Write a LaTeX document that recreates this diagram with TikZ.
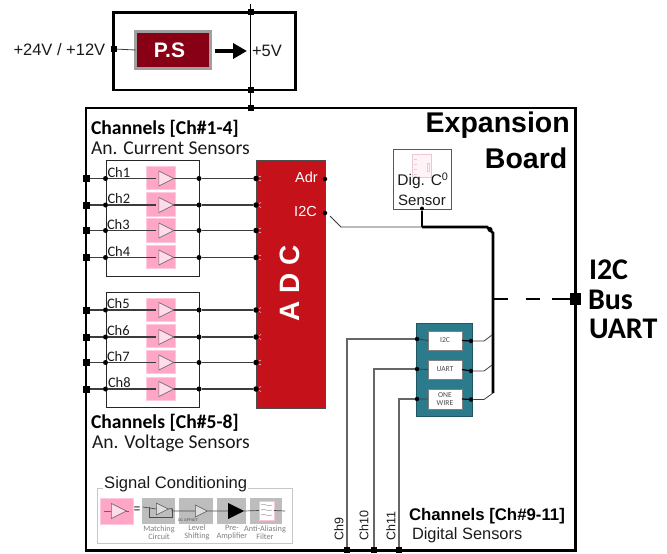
\documentclass[tikz,border=0pt]{standalone}
\usepackage{fontspec}
\setmainfont{Liberation Sans}
\newfontfamily\calfam{Carlito}
\usetikzlibrary{arrows.meta,shapes.geometric}
\newcommand{\fsz}[1]{\fontsize{#1}{#1}\selectfont}
\definecolor{txt}{HTML}{1A1A1A}
\definecolor{wire}{HTML}{3C3C3C}
\definecolor{pinkb}{HTML}{FFA6C6}
\definecolor{pinkl}{HTML}{FFDCE8}
\definecolor{adcred}{HTML}{C5111A}
\definecolor{psred}{HTML}{880016}
\definecolor{teal2}{HTML}{2B7B8C}
\definecolor{condg}{HTML}{BDBDBD}
\tikzset{
  box/.style={draw,anchor=north west,inner sep=0pt,outer sep=0pt},
  dotn/.style={circle,fill=black,inner sep=0pt,minimum size=#1,outer sep=0pt},
  dotn/.default=5pt,
  sqn/.style={rectangle,fill=black,inner sep=0pt,minimum size=#1,outer sep=0pt},
  sqn/.default=6pt,
  wireln/.style={draw=wire,line width=1.4pt},
  thinln/.style={draw=wire,line width=0.8pt},
  heavy/.style={draw=black,line width=2.6pt},
  lbl/.style={anchor=west,inner sep=0pt,outer sep=0pt,text=txt},
  amp/.style={isosceles triangle,isosceles triangle stretches,draw=gray!85!black,fill=pinkl,line width=0.7pt,inner sep=0pt,minimum width=15pt,minimum height=15pt,anchor=center,outer sep=0pt},
  pinkbox/.style={box,draw=pinkb!60!white,fill=pinkb,line width=0.5pt,minimum width=29pt,minimum height=23.5pt},
  condbox/.style={box,draw=none,fill=condg,minimum height=25.5pt},
  condtxt/.style={align=center,inner sep=0pt,text=gray,font=\calfam\fsz{8.2}},
  chipbox/.style={box,draw=gray,fill=white,line width=0.8pt,minimum width=34pt,minimum height=19pt,font=\calfam\fsz{7.6},text=black!70,align=center,anchor=center},
  smalltri/.style={isosceles triangle,isosceles triangle stretches,draw=gray!70!black,fill=condg!50,line width=0.5pt,inner sep=0pt,minimum width=12pt,minimum height=12pt,outer sep=0pt},
}
\begin{document}
\begin{tikzpicture}[x=1pt,y=-1pt]
\useasboundingbox (0,0) rectangle (667,554);
% power supply
\node[box,heavy,line width=2.5pt,minimum width=182pt,minimum height=77.5pt] (psframe) at (113.5,12.5) {};
\node[box,draw=gray!75,fill=psred,line width=2.4pt,minimum width=75pt,minimum height=37pt,anchor=center] (ps) at (173,50) {};
\node[inner sep=0pt,text=white,font=\bfseries\fsz{21}] (pst) at (169.5,50) {P.S};
\node[sqn=6pt] (psin) at (114,49) {};
\draw[thinln] (psin) -- (ps.west);
\coordinate (arrowend) at (247,51);
\draw[-{Triangle[length=14pt,width=15pt]},line width=3.6pt,black] (215,51) -- (arrowend);
\node[sqn=6pt] (v5a) at (250.5,12) {};
\node[sqn=6pt] (v5b) at (250.5,90) {};
\node[sqn=6pt] (v5c) at (250.5,108) {};
\coordinate (v5top) at (250.5,4);
\draw[black,line width=0.9pt] (v5top) -- (v5a) -- (v5b) -- (v5c);
\node[lbl,font=\fsz{16.5}] (lin) at (13.5,50) {+24V / +12V};
\node[lbl,font=\fsz{16.5}] (l5v) at (252,51) {+5V};
% main board
\node[box,heavy,line width=2.6pt,minimum width=489.5pt,minimum height=442.5pt] (board) at (86,108) {};
\node[anchor=east,inner sep=0pt,font=\bfseries\fsz{28.5},text=black] (t1) at (570,125) {Expansion};
\node[anchor=east,inner sep=0pt,font=\bfseries\fsz{28.5},text=black] (t2) at (567.5,158) {Board};
\node[lbl,font=\calfam\bfseries\fsz{19.6},text=black] (c14) at (91,129) {Channels [Ch\#1-4]};
\node[lbl,font=\calfam\fsz{19.6}] (c14b) at (91,148) {An. Current Sensors};
\node[lbl,font=\calfam\bfseries\fsz{19.6},text=black] (c58) at (91,423) {Channels [Ch\#5-8]};
\node[lbl,font=\calfam\fsz{19.6}] (c58b) at (92,443) {An. Voltage Sensors};
\node[lbl,font=\bfseries\fsz{16.8},text=black] (c911) at (409,516) {Channels [Ch\#9-11]};
\node[lbl,font=\fsz{16.4}] (c911b) at (412,535) {Digital Sensors};
% channel groups
\node[box,draw=black!85,line width=1pt,minimum width=93.5pt,minimum height=116pt] (g1) at (106,160) {};
\node[box,draw=black!85,line width=1pt,minimum width=93.5pt,minimum height=115pt] (g2) at (106,292) {};
% ADC
\node[box,draw=black!70,fill=adcred,line width=0.8pt,minimum width=69pt,minimum height=248pt] (adc) at (256,160) {};
\node[rotate=90,text=white,font=\bfseries\fsz{28}] (adct) at (290,283.5) {A D C};
\node[anchor=east,inner sep=0pt,text=white,font=\fsz{14.5}] (adr) at (318,177) {Adr};
\node[anchor=east,inner sep=0pt,text=white,font=\fsz{14.5}] (i2c) at (317,212) {I2C};
\node[dotn=4.5pt] (adrd) at (325,179) {};
\node[dotn=4.5pt] (i2cd) at (325,213) {};
% channels
\foreach \n/\yy/\py/\lx in {1/178.5/166/107.5,2/205/192.5/107.5,3/230.5/218.5/107,4/257.5/245/107.5,5/310/298/107,6/337/324/107,7/362.5/350/107,8/389/377/108}{
  \node[pinkbox] (pk\n) at (146,\py) {};
  \coordinate (in\n) at (156,\yy);
  \node[sqn=7pt] (busl\n) at (86,\yy) {};
  \node[dotn=5pt] (gl\n) at (105.5,\yy) {};
  \node[dotn=5pt] (gr\n) at (199,\yy) {};
  \node[dotn=5.5pt] (ad\n) at (256,\yy) {};
  \draw[wireln] (busl\n) -- (gl\n) -- (in\n);
  \draw[wireln] (in\n) ++(15,0) coordinate (out\n) -- (gr\n) -- (ad\n);
  \node[amp] (amp\n) at (163.5,\yy) {};
  \node[lbl,font=\calfam\fsz{14.5}] (chl\n) at (\lx,\yy-6) {Ch\n};
  \draw[white!80!gray,line width=0.5pt] (259,\yy-1.5) -- (261,\yy-2.5) (259,\yy+1.5) -- (261,\yy+2.5);
}
% digital sensor
\node[box,draw=black!65,fill=white,line width=1pt,minimum width=58pt,minimum height=60pt] (dig) at (393,149) {};
\node[box,draw=pinkb!70!gray!55,fill=pinkl!35,line width=1pt,minimum width=19pt,minimum height=23pt] (chip) at (412,154) {};
\draw[draw=pinkb!70!gray!55,line width=1pt] (427,163) rectangle (429,171);
\foreach \yy in {159,164,169,174}{\draw[draw=pinkb!70!gray!55,line width=1pt] (414,\yy) -- (417,\yy);}
\node[anchor=center,inner sep=0pt,font=\fsz{15.5},text=txt] (dl1) at (423,181) {Dig. C\textsuperscript{0}};
\node[anchor=center,inner sep=0pt,font=\fsz{15},text=txt] (dl2) at (422,200) {Sensor};
\node[dotn=4pt] (digd) at (422,208.5) {};
\coordinate (w1) at (341,227);
\coordinate (w2) at (422,227);
\coordinate (w3) at (487,227);
\coordinate (w4) at (493,233);
\coordinate (w5) at (493,393);
\coordinate (w0) at (330,216);
\node[dotn=5pt] (corner) at (490,229.5) {};
\draw[thinln] (w0) -- (w1) -- (w2);
\draw[black,line width=1.6pt] (digd) -- (w2);
\draw[black,line width=2.6pt] (w2) -- (w3) -- (w4) -- (w5);
% UART chips
\node[box,draw=black!30!teal2,fill=teal2,line width=0.8pt,minimum width=55.5pt,minimum height=93pt] (teal) at (416.5,323) {};
\node[chipbox] (ci) at (445,340.5) {I2C};
\node[chipbox] (cu) at (445,369.5) {UART};
\node[chipbox,font=\calfam\fsz{7.6},minimum height=20pt] (co) at (445,399) {ONE\\WIRE};
\node[dotn=4.5pt] (li) at (417,339) {};
\node[dotn=4.5pt] (lu) at (417,369) {};
\node[dotn=4.5pt] (lo) at (417,399) {};
\node[dotn=4.5pt] (ri) at (471,341) {};
\node[dotn=4.5pt] (ru) at (471,371) {};
\node[dotn=4.5pt] (ro) at (471,399.5) {};
\draw[thinln] (li) -- (ci.west) (lu) -- (cu.west) (lo) -- (co.west);
\draw[draw=black,line width=1.2pt] (ci.east) -- (ri) (cu.east) -- (ru) (co.east) -- (ro);
\coordinate (si) at (492,335);
\coordinate (su) at (492,365);
\coordinate (ki) at (484,341);
\coordinate (ku) at (484,371);
\coordinate (ko) at (484,399.5);
\draw[thinln] (ri) -- (ki) -- (si);
\draw[thinln] (ru) -- (ku) -- (su);
\draw[thinln] (ro) -- (ko) -- (w5);
% outgoing digital channels
\node[sqn=5.5pt] (b9) at (347,550) {};
\node[sqn=5.5pt] (b10) at (374,550) {};
\node[sqn=5.5pt] (b11) at (399,550) {};
\draw[wireln,draw=gray!80!black] (li) -| (b9);
\draw[wireln,draw=gray!80!black] (lu) -| (b10);
\draw[wireln,draw=gray!80!black] (lo) -| (b11);
\node[rotate=90,anchor=west,inner sep=0pt,font=\fsz{12.5},text=txt] (n9) at (339,541) {Ch9};
\node[rotate=90,anchor=west,inner sep=0pt,font=\fsz{12.5},text=txt] (n10) at (364,541) {Ch10};
\node[rotate=90,anchor=west,inner sep=0pt,font=\fsz{12.5},text=txt] (n11) at (391,541) {Ch11};
% bus
\node[sqn=11.5pt] (bus) at (575.5,299) {};
\coordinate (tap) at (494,299);
\draw[black,line width=2.5pt,dash pattern=on 14pt off 17.5pt on 14pt off 12pt on 14pt off 0pt] (tap) -- (bus);
\node[lbl,font=\calfam\bfseries\fsz{30},text=black] (b1) at (589,270) {I2C};
\node[lbl,font=\calfam\bfseries\fsz{30},text=black] (b2) at (588,299.5) {Bus};
\node[lbl,font=\calfam\bfseries\fsz{30},text=black] (b3) at (589,328.5) {UART};
% signal conditioning
\node[box,draw=black!22,fill=white,line width=1pt,minimum width=195pt,minimum height=55pt] (sc) at (97,488) {};
\node[anchor=west,inner sep=1pt,fill=white,font=\fsz{16.6},text=txt] (sct) at (103,484) {Signal Conditioning};
\node[pinkbox,minimum width=33pt,minimum height=26pt] (spk) at (100,498) {};
\node[amp] (samp) at (116,511) {};
\coordinate (sa1) at (104,511);
\coordinate (sa2) at (129,511);
\draw[draw=gray!80!black,line width=0.7pt] (sa1) -- (samp.west) (samp.east) -- (sa2);
\node[inner sep=0pt,font=\bfseries\fsz{11},text=black!70] (seq) at (137,510) {=};
\node[condbox,minimum width=33pt] (s1) at (142,498) {};
\node[condbox,minimum width=34pt] (s2) at (179,498) {};
\node[condbox,minimum width=29pt] (s3) at (217,498) {};
\node[condbox,minimum width=32pt] (s4) at (250,498) {};
\node[smalltri] (t1a) at (160,509) {};
\node[smalltri] (t2a) at (199,511) {};
\node[isosceles triangle,isosceles triangle stretches,fill=black,inner sep=0pt,minimum width=16pt,minimum height=16pt,outer sep=0pt] (t3a) at (233,511) {};
\node[box,draw=pinkb!70!white,fill=white,line width=0.7pt,minimum width=15pt,minimum height=19pt] (flt) at (259,501) {};
\foreach \yy in {505,510,515}{\draw[gray,line width=0.4pt] (261,\yy) .. controls (264,\yy-2) and (268,\yy+2) .. (272,\yy);}
\coordinate (scin) at (143,507);
\coordinate (scend) at (285,511);
\draw[draw=black!70,line width=0.7pt] (scin) -- (t1a.west) (t1a.east) -- (172,508.5) -- (172,511) -- (t2a.west);
\draw[draw=black!70,line width=0.7pt] (t2a.east) -- (t3a.west) (t3a.east) -- (flt.west) (flt.east) -- (scend);
\draw[draw=black!70,line width=0.6pt] (172,509) -- (172,517) -- (149,517) -- (149,507);
\node[inner sep=0pt,font=\fsz{3.5},text=black!75] (dco) at (188,520) {DC OFFSET};
\node[condtxt] (l1) at (159,532.5) {Matching\\Circuit};
\node[condtxt] (l2) at (197,532.5) {Level\\Shifting};
\node[condtxt] (l3) at (232,532.5) {Pre-\\Amplifier};
\node[condtxt] (l4) at (265,532.5) {Anti-Aliasing\\Filter};
\end{tikzpicture}
\end{document}
